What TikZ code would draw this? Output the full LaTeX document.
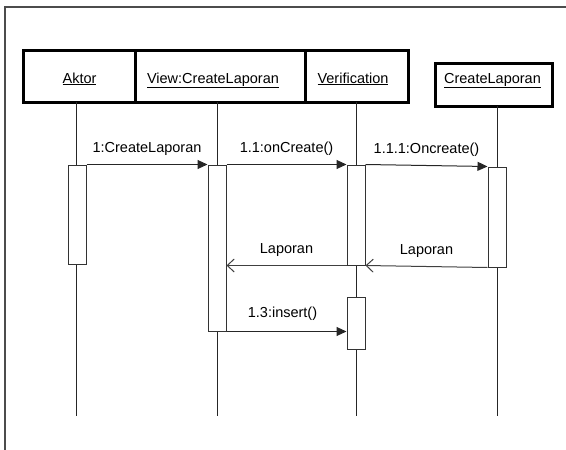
\documentclass[tikz,border=0pt]{standalone}
\usepackage{fontspec}
\setmainfont{Liberation Sans}
\usetikzlibrary{arrows.meta,calc}
\begin{document}
\begin{tikzpicture}[x=1pt,y=-1pt,
  every node/.style={font=\fontsize{14.5}{17}\selectfont},
  head/.style={draw=black,line width=3pt,inner sep=0pt,minimum height=52pt},
  htext/.style={inner sep=0pt,text height=11pt,text depth=5pt},
  life/.style={draw=black!85,line width=1pt},
  act/.style={draw=black!80,line width=1pt,fill=white,minimum width=18pt,inner sep=0pt},
  call/.style={draw=black!85,line width=1pt,-{Triangle[length=10pt,width=9pt]}},
  ret/.style={draw=black!75,line width=1pt,-{Straight Barb[length=7pt,width=13pt]}},
  msg/.style={above,inner sep=0pt,yshift=9pt,text height=11pt,text depth=3pt},
  frameline/.style={draw=black!70,line width=2pt}]
\useasboundingbox (0,0) rectangle (566,450);
% frame
\coordinate (fA) at (5,450);
\coordinate (fB) at (5,7);
\coordinate (fC) at (566,7);
\draw[frameline] (fA) -- (fB) -- (fC);
% header boxes
\node[head,minimum width=112pt] (hA) at (79,76) {};
\node[htext] at (79.5,80) (tA) {\underline{Aktor}};
\node[head,minimum width=170pt] (hV) at (220,76) {};
\node[htext] at (213,80) (tV) {\underline{View:CreateLaporan}};
\node[head,minimum width=103pt] (hR) at (356.5,76) {};
\node[htext] at (353,80) (tR) {\underline{Verification}};
\node[head,minimum width=117pt,minimum height=43pt] (hC) at (493.5,84.5) {};
\node[htext] at (492.5,80) (tC) {\underline{CreateLaporan}};
% lifelines
\coordinate (lA1) at (76,102);  \coordinate (lA2) at (76,416);
\coordinate (lV1) at (217,102); \coordinate (lV2) at (217,416);
\coordinate (lR1) at (356,102); \coordinate (lR2) at (356,416);
\coordinate (lC1) at (497,106); \coordinate (lC2) at (497,416);
\draw[life] (lA1) -- (lA2);
\draw[life] (lV1) -- (lV2);
\draw[life] (lR1) -- (lR2);
\draw[life] (lC1) -- (lC2);
% activations
\node[act,minimum height=99pt] (aA) at (77,214.5) {};
\node[act,minimum height=166pt] (aV) at (217,248) {};
\node[act,minimum height=100pt] (aR) at (356,215) {};
\node[act,minimum height=100pt] (aC) at (497,217) {};
\node[act,minimum height=52pt] (aR2) at (356,323) {};
% messages
\draw[call] (aA.north east) -- node[msg] {1:CreateLaporan} (aV.north west);
\draw[call] (aV.north east) -- node[msg] {1.1:onCreate()} (aR.north west);
\draw[call] (aR.north east) -- node[msg] {1.1.1:Oncreate()} (aC.north west);
\draw[ret] (aR.south west) -- node[msg] {Laporan} (aV.east |- aR.south west);
\draw[ret] (aC.south west) -- node[msg] {Laporan} (aR.south east);
\draw[call] (aV.south east) -- node[msg,yshift=2pt,xshift=-4pt] {1.3:insert()} (aR2.west |- aV.south east);
\end{tikzpicture}
\end{document}
